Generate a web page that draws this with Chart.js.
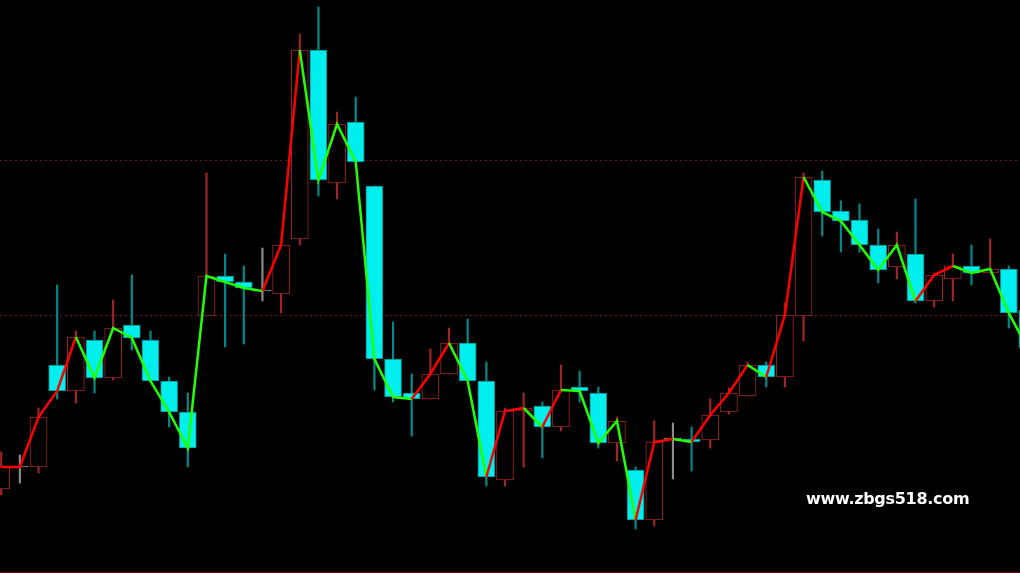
<!DOCTYPE html>
<html>
<head>
<meta charset="utf-8">
<title>Candles</title>
<script src="https://cdn.jsdelivr.net/npm/chart.js@4.4.1/dist/chart.umd.min.js"></script>
<style>
    html, body { margin: 0; padding: 0; background: #000; overflow: hidden; }
    #wrap { position: relative; width: 1020px; height: 573px; }
    #candleChart { display: block; }
    #watermark {
        position: absolute; left: 806px; top: 491px;
        color: #fff; font: bold 16px "DejaVu Sans", sans-serif;
        line-height: 16px; letter-spacing: -0.3px; white-space: nowrap;
    }
</style>
</head>
<body>
<div id="wrap">
    <canvas id="candleChart" width="1020" height="573"></canvas>
    <div id="watermark">www.zbgs518.com</div>
</div>
<script>
// one bar per entry, oldest first (last one runs off the right edge)
const opens = [1255.2, 1259.6, 1259.6, 1280.0, 1274.8, 1285.0, 1277.4, 1288.0, 1285.0, 1276.8,
    1270.6, 1289.8, 1297.8, 1296.6, 1294.8, 1294.2, 1305.2, 1343.0, 1316.4, 1328.6,
    1315.8, 1281.2, 1274.4, 1273.2, 1278.2, 1284.4, 1276.8, 1257.0, 1270.8, 1271.8,
    1267.6, 1275.6, 1274.4, 1264.4, 1259.0, 1249.0, 1265.2, 1265.2, 1265.0, 1270.6,
    1273.8, 1280.0, 1277.6, 1289.8, 1317.0, 1310.8, 1309.0, 1304.0, 1299.6, 1302.2,
    1292.8, 1297.2, 1299.8, 1298.4, 1299.2, 1291.0];
const highs = [1262.6, 1262.0, 1271.4, 1296.0, 1286.8, 1286.8, 1293.0, 1298.0, 1286.8, 1277.6,
    1274.4, 1318.4, 1302.2, 1299.8, 1303.4, 1304.0, 1346.2, 1351.6, 1330.6, 1333.6,
    1315.8, 1288.6, 1278.2, 1283.2, 1287.4, 1289.2, 1280.6, 1271.4, 1274.4, 1272.6,
    1280.0, 1278.8, 1275.6, 1269.6, 1259.6, 1268.8, 1268.4, 1267.6, 1273.2, 1275.4,
    1280.6, 1280.6, 1292.4, 1318.4, 1318.8, 1312.8, 1312.2, 1307.2, 1306.6, 1313.2,
    1298.4, 1302.2, 1304.0, 1305.2, 1299.8, 1293.0];
const lows = [1254.0, 1256.4, 1258.4, 1273.2, 1272.4, 1274.4, 1277.0, 1283.0, 1276.6, 1267.6,
    1259.6, 1289.8, 1283.6, 1284.2, 1292.8, 1290.4, 1304.0, 1313.8, 1313.2, 1320.6,
    1275.0, 1272.6, 1265.8, 1273.2, 1278.2, 1276.8, 1255.8, 1255.8, 1259.6, 1261.4,
    1266.8, 1272.6, 1263.4, 1260.8, 1247.2, 1247.8, 1257.2, 1258.8, 1263.4, 1270.2,
    1273.8, 1275.6, 1275.6, 1284.8, 1305.8, 1302.6, 1302.6, 1296.4, 1297.2, 1292.4,
    1291.6, 1292.8, 1296.0, 1298.4, 1287.4, 1281.0];
const closes = [1259.6, 1259.6, 1269.6, 1274.8, 1285.6, 1277.4, 1287.4, 1285.4, 1276.8, 1270.6,
    1263.4, 1297.8, 1296.6, 1295.4, 1294.8, 1304.0, 1343.0, 1317.0, 1328.2, 1320.6,
    1281.2, 1273.6, 1273.2, 1278.2, 1284.4, 1276.8, 1257.6, 1270.8, 1271.4, 1267.6,
    1275.0, 1274.8, 1264.4, 1268.8, 1249.0, 1264.6, 1265.2, 1264.6, 1270.0, 1274.4,
    1280.0, 1277.6, 1290.0, 1317.6, 1310.6, 1308.8, 1304.0, 1299.0, 1304.0, 1292.8,
    1298.0, 1299.8, 1298.4, 1299.2, 1290.4, 1283.4];
// colour of the close line leading into each bar: 1 = red, 0 = green
const lineUp = [1, 1, 1, 1, 1, 0, 0, 0, 0, 0,
    0, 0, 0, 0, 0, 1, 1, 0, 0, 0,
    0, 0, 0, 1, 1, 0, 0, 1, 1, 0,
    1, 0, 0, 0, 0, 1, 1, 0, 1, 1,
    1, 0, 1, 1, 0, 0, 0, 0, 0, 0,
    1, 1, 0, 0, 0, 0];
// dotted horizontal levels
const levels = [1321.0, 1290.0];

const bullBorder = '#a02626';
const bearFill = '#00eeee';
const bearBorder = '#008b8b';
const dojiColor = '#8c8c8c';

document.addEventListener('DOMContentLoaded', function () {
    const kind = closes.map((c, i) => c > opens[i] ? 'up' : (c < opens[i] ? 'down' : 'flat'));
    const edge = kind.map(k => k === 'up' ? bullBorder : (k === 'down' ? bearBorder : dojiColor));
    const fill = kind.map(k => k === 'up' ? '#000000' : (k === 'down' ? bearFill : dojiColor));

    const levelLines = {
        id: 'levelLines',
        beforeDatasetsDraw(chart) {
            const c = chart.ctx;
            const y = chart.scales.y;
            c.save();
            c.strokeStyle = '#7a1010';
            c.lineWidth = 1;
            c.setLineDash([2, 3]);
            levels.forEach(v => {
                const py = Math.round(y.getPixelForValue(v)) + 0.5;
                c.beginPath();
                c.moveTo(0, py);
                c.lineTo(chart.width, py);
                c.stroke();
            });
            c.restore();
        },
        afterDraw(chart) {
            // bottom border of the window
            const c = chart.ctx;
            c.save();
            c.fillStyle = '#8b0000';
            c.fillRect(0, chart.height - 1, chart.width, 1);
            c.restore();
        }
    };

    const ctx = document.getElementById('candleChart').getContext('2d');
    new Chart(ctx, {
        type: 'bar',
        data: {
            datasets: [{
                type: 'line',
                data: closes.map((c, i) => ({ x: i, y: c })),
                borderColor: '#ff0000',
                borderWidth: 2.5,
                pointRadius: 0,
                tension: 0,
                order: 0,
                segment: {
                    borderColor: s => lineUp[s.p1DataIndex] ? '#ff0000' : '#22ff00'
                }
            }, {
                // bodies
                data: closes.map((c, i) => ({ x: i, y: [opens[i], c] })),
                backgroundColor: fill,
                borderColor: edge,
                borderWidth: 1,
                borderSkipped: false,
                barThickness: 17,
                minBarLength: 1,
                grouped: false,
                order: 1
            }, {
                // wicks
                data: highs.map((h, i) => ({ x: i, y: [lows[i], h] })),
                backgroundColor: edge,
                borderWidth: 0,
                barThickness: 1.5,
                grouped: false,
                order: 2
            }]
        },
        options: {
            responsive: false,
            animation: false,
            layout: { padding: 0 },
            plugins: {
                legend: { display: false },
                tooltip: { enabled: false }
            },
            scales: {
                x: { type: 'linear', offset: false, bounds: 'ticks', min: -0.065, max: 54.6, display: false },
                y: { min: 1238.4, max: 1353, display: false }
            }
        },
        plugins: [levelLines]
    });
});
</script>
</body>
</html>
